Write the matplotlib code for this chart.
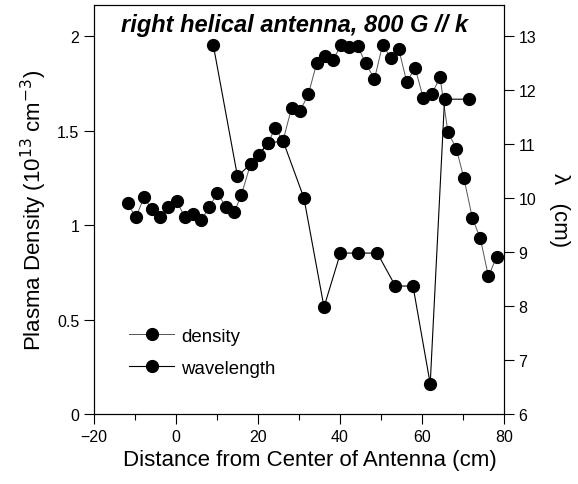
import numpy as np
import matplotlib
matplotlib.use("Agg")
import matplotlib.pyplot as plt
from matplotlib.ticker import MultipleLocator

plt.rcParams['font.family'] = ['Liberation Sans', 'DejaVu Sans']

# density (10^13 cm^-3) vs distance (cm)
dens_x = [-11.8, -9.8, -7.8, -5.9, -3.8, -1.9, 0.2, 2.1, 4.1, 6.2, 8.1, 10.1, 12.2, 14.2,
          15.9, 18.2, 20.3, 22.4, 24.2, 26.1, 28.2, 30.3, 32.3, 34.3, 36.3, 38.4, 40.2,
          42.3, 44.3, 46.3, 48.4, 50.4, 52.4, 54.3, 56.3, 58.3, 60.3, 62.4, 64.4, 66.3,
          68.4, 70.2, 72.3, 74.2, 76.2, 78.2]
dens_y = [1.116, 1.04, 1.146, 1.083, 1.044, 1.095, 1.125, 1.044, 1.056, 1.026, 1.095, 1.169,
          1.095, 1.067, 1.157, 1.323, 1.37, 1.432, 1.513, 1.446, 1.62, 1.605, 1.693, 1.855,
          1.896, 1.875, 1.952, 1.94, 1.946, 1.855, 1.772, 1.954, 1.884, 1.933, 1.755, 1.833,
          1.672, 1.695, 1.781, 1.494, 1.402, 1.249, 1.035, 0.931, 0.728, 0.832]

# wavelength (cm) vs distance (cm)
wave_x = [9.1, 15.0, 18.2, 22.4, 26.1, 31.2, 36.1, 40.1, 44.5, 49.1, 53.5, 57.8, 62.0, 65.5, 71.4]
wave_y = [12.83, 10.40, 10.63, 11.01, 11.06, 10.0, 7.98, 8.98, 8.98, 8.98, 8.37, 8.37, 6.56, 11.83, 11.83]

fig = plt.figure(figsize=(5.78, 4.85), dpi=100)
ax = fig.add_axes([0.1626, 0.1443, 0.7094, 0.8433])
ax2 = ax.twinx()

l1, = ax.plot(dens_x, dens_y, color='#555555', lw=0.7, marker='o', ms=8.5,
              mfc='black', mec='black', label='density')
l2, = ax2.plot(wave_x, wave_y, color='black', lw=0.8, marker='o', ms=8.5,
               mfc='black', mec='black', label='wavelength')

ax.set_xlim(-20, 80)
ax.set_ylim(0, 2.164)
ax2.set_ylim(6, 6 + 2.164 * 3.5)

ax.xaxis.set_major_locator(MultipleLocator(20))
ax.xaxis.set_minor_locator(MultipleLocator(10))
ax.set_yticks([0, 0.5, 1, 1.5, 2])
ax.set_yticklabels(['0', '0.5', '1', '1.5', '2'])
ax2.set_yticks(range(6, 14))

for a in (ax, ax2):
    a.tick_params(direction='out', length=7, width=0.8, labelsize=11.5)
    a.tick_params(which='minor', direction='out', length=4.5, width=0.8)
ax.tick_params(axis='x', pad=4)

ax.set_xlabel('Distance from Center of Antenna (cm)', fontsize=16, labelpad=6)
ax.xaxis.set_label_coords(0.527, -0.085)
ax.set_ylabel('Plasma Density (10$^{13}$ cm$^{-3}$)', fontsize=16, labelpad=6)
ax2.set_ylabel('λ   (cm)', fontsize=16, rotation=270, labelpad=24)

ax.text(0.49, 0.98, 'right helical antenna, 800 G // k', transform=ax.transAxes,
        ha='center', va='top', fontsize=17, fontweight='bold', fontstyle='italic')

ax.legend([l1, l2], ['density', 'wavelength'], loc='lower left',
          bbox_to_anchor=(0.045, 0.05), frameon=False, fontsize=13.4,
          handlelength=2.4, labelspacing=0.8, handletextpad=0.4)

fig.savefig('out.png', dpi=100)
